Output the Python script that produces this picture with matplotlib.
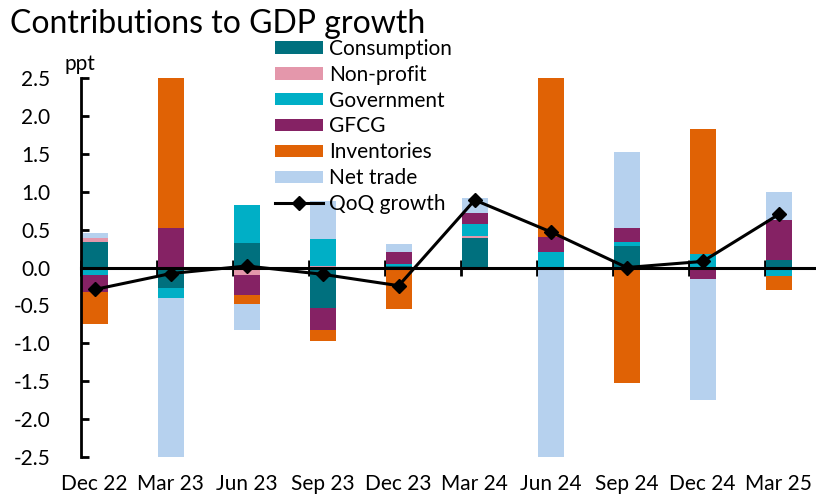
import matplotlib
matplotlib.use("Agg")
import matplotlib.pyplot as plt
import numpy as np

plt.rcParams['font.family'] = ['Lato', 'DejaVu Sans']

quarters = ['Dec 22', 'Mar 23', 'Jun 23', 'Sep 23', 'Dec 23',
            'Mar 24', 'Jun 24', 'Sep 24', 'Dec 24', 'Mar 25']

# contributions, ppt
consumption = [0.34, -0.27, 0.32, -0.54, 0.02, 0.39, -0.03, 0.28, 0.00, 0.10]
non_profit = [0.05, 0.00, -0.10, 0.02, 0.00, 0.03, 0.00, 0.00, 0.00, 0.00]
government = [-0.10, -0.13, 0.51, 0.35, 0.02, 0.15, 0.21, 0.06, 0.18, -0.11]
gfcg = [-0.22, 0.52, -0.26, -0.28, 0.16, 0.15, 0.19, 0.18, -0.15, 0.53]
inventories = [-0.42, 2.20, -0.12, -0.15, -0.55, -0.03, 2.60, -1.53, 1.65, -0.19]
net_trade = [0.06, -2.40, -0.34, 0.51, 0.11, 0.20, -2.50, 1.01, -1.60, 0.37]
qoq_growth = [-0.29, -0.08, 0.02, -0.09, -0.24, 0.89, 0.47, 0.00, 0.08, 0.70]

series = [
    ('Consumption', consumption, '#00707e'),
    ('Non-profit', non_profit, '#e497ab'),
    ('Government', government, '#00afc6'),
    ('GFCG', gfcg, '#852264'),
    ('Inventories', inventories, '#e06205'),
    ('Net trade', net_trade, '#b6d1ee'),
]

FS = 15
W, H = 816, 496
fig = plt.figure(figsize=(W / 100, H / 100), dpi=100)
ax = fig.add_axes([81 / W, 1 - 457 / H, 1 - 81 / W, (457 - 78) / H])

x = np.arange(len(quarters))
width = 0.34
pos_base = np.zeros(len(x))
neg_base = np.zeros(len(x))
handles = []
for name, vals, col in series:
    v = np.array(vals)
    bottom = np.where(v >= 0, pos_base, neg_base)
    handles.append(ax.bar(x, v, width, bottom=bottom, color=col, label=name, zorder=2))
    pos_base += np.clip(v, 0, None)
    neg_base += np.clip(v, None, 0)

line, = ax.plot(x, qoq_growth, color='black', lw=2.2, marker='D', ms=7,
                label='QoQ growth', zorder=4)
handles.append(line)

ax.set_ylim(-2.5, 2.5)
ax.set_xlim(-0.18, 9.49)
ax.set_yticks(np.arange(-2.5, 2.51, 0.5))
ax.yaxis.set_major_formatter(matplotlib.ticker.FormatStrFormatter('%.1f'))
ax.tick_params(axis='y', direction='in', length=6, width=2, labelsize=FS, pad=22)

# category axis sits on the zero line, labels go below the plot
for s in ['top', 'right']:
    ax.spines[s].set_visible(False)
ax.spines['left'].set_linewidth(2)
ax.spines['bottom'].set_position(('data', 0))
ax.spines['bottom'].set_linewidth(2.2)
ax.spines['bottom'].set_zorder(3)
ax.set_xticks(x - 0.18)
ax.tick_params(axis='x', direction='inout', length=11, width=2, labelbottom=False)

sec = ax.secondary_xaxis(0.0)
sec.set_xticks(x, quarters)
sec.tick_params(length=0, labelsize=FS, pad=12)
sec.spines['bottom'].set_visible(False)

fig.text(65 / W, 1 - 70 / H, 'ppt', fontsize=FS, ha='left', va='baseline')
fig.text(10 / W, 1 - 33 / H, 'Contributions to GDP growth', fontsize=23,
         ha='left', va='baseline')

ax.legend(handles=handles, loc='upper left', bbox_to_anchor=(275 / W, 1 - 39 / H),
          bbox_transform=fig.transFigure, frameon=False, fontsize=FS,
          handlelength=2.3, handleheight=0.53, handletextpad=0.3,
          labelspacing=0.28, borderpad=0, borderaxespad=0)

fig.savefig('out.png', dpi=100)
